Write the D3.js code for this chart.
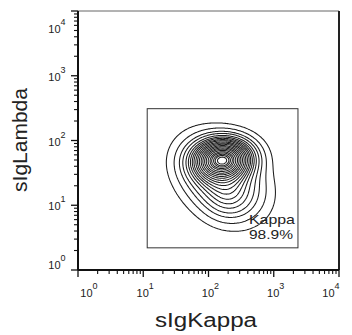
<!DOCTYPE html>
<html>
<head>
<meta charset="utf-8">
<script src="https://cdn.jsdelivr.net/npm/d3@7"></script>
<style>
  html, body { margin: 0; padding: 0; background: #fff; }
  svg { display: block; }
  text { font-family: "Liberation Sans", Arial, sans-serif; fill: #222; }
</style>
</head>
<body>
<svg id="chart" width="352" height="335"></svg>
<script>
// Axis decades (log10 fluorescence)
const decades = [0, 1, 2, 3, 4];
const tickBase = "10";

// Axis titles
const xTitle = "sIgKappa";
const yTitle = "sIgLambda";

// Kappa gate (fluorescence units): [xMin, xMax], [yMin, yMax]
const gateX = [11.5, 2350];
const gateY = [2.2, 310];
const gateName = "Kappa";
const gatePercent = "98.9%";

// Population shape as a mixture of bivariate normals in log10 space
const compMeanX = [2.22, 2.20, 2.30];
const compMeanY = [1.71, 1.42, 1.08];
const compSdX   = [0.25, 0.34, 0.22];
const compSdY   = [0.18, 0.33, 0.20];
const compRho   = [0.05, -0.28, 0.00];
const compW     = [0.56, 0.41, 0.03];

// Equal-probability contour levels (fraction of events enclosed)
const contourMass = [0.98, 0.95, 0.91, 0.87, 0.82, 0.77, 0.72, 0.67, 0.62,
                     0.57, 0.52, 0.47, 0.42, 0.37, 0.32, 0.27, 0.22, 0.17,
                     0.13, 0.09, 0.06, 0.03];

const svg = d3.select("#chart");
const pLeft = 78, pRight = 339, pTop = 11, pBottom = 270;

const x = d3.scaleLog().domain([1, 1e4]).range([pLeft, pRight]);
const y = d3.scaleLog().domain([1, 1e4]).range([pBottom, pTop]);

// ---- density grid in log space ----
const n = 240;
const values = new Float64Array(n * n);
for (let j = 0; j < n; j++) {
  const v = (j + 0.5) / n * 4;
  for (let i = 0; i < n; i++) {
    const u = (i + 0.5) / n * 4;
    let d = 0;
    for (let k = 0; k < compW.length; k++) {
      const dx = (u - compMeanX[k]) / compSdX[k];
      const dy = (v - compMeanY[k]) / compSdY[k];
      const r = compRho[k];
      const q = (dx * dx - 2 * r * dx * dy + dy * dy) / (1 - r * r);
      d += compW[k] * Math.exp(-0.5 * q) / (compSdX[k] * compSdY[k] * Math.sqrt(1 - r * r));
    }
    values[i + j * n] = d;
  }
}
// density thresholds that enclose each probability mass
const sorted = Array.from(values).sort((a, b) => b - a);
const total = d3.sum(sorted);
const thresholds = [];
{
  let acc = 0, idx = 0;
  const targets = contourMass.slice().sort((a, b) => a - b);
  for (const t of targets) {
    while (idx < sorted.length && acc < t * total) { acc += sorted[idx]; idx++; }
    thresholds.push(sorted[Math.max(0, idx - 1)]);
  }
}

const contours = d3.contours().size([n, n]).thresholds(thresholds)(values);
const proj = d3.geoTransform({
  point: function (gx, gy) {
    this.stream.point(x(Math.pow(10, gx / n * 4)), y(Math.pow(10, gy / n * 4)));
  }
});
const path = d3.geoPath(proj);

svg.append("g")
  .selectAll("path")
  .data(contours)
  .join("path")
  .attr("d", path)
  .attr("fill", "none")
  .attr("stroke", "#1c1c1c")
  .attr("stroke-width", 1.05)
  .attr("stroke-linejoin", "round");

// ---- gate ----
svg.append("rect")
  .attr("x", x(gateX[0]))
  .attr("y", y(gateY[1]))
  .attr("width", x(gateX[1]) - x(gateX[0]))
  .attr("height", y(gateY[0]) - y(gateY[1]))
  .attr("fill", "none")
  .attr("stroke", "#333")
  .attr("stroke-width", 1);

svg.append("text")
  .attr("x", x(gateX[1]) - 3)
  .attr("y", y(gateY[0]) - 24)
  .attr("text-anchor", "end")
  .attr("font-size", 13)
  .attr("textLength", 46)
  .attr("lengthAdjust", "spacingAndGlyphs")
  .text(gateName);
svg.append("text")
  .attr("x", x(gateX[1]) - 5)
  .attr("y", y(gateY[0]) - 9)
  .attr("text-anchor", "end")
  .attr("font-size", 13)
  .attr("textLength", 44)
  .attr("lengthAdjust", "spacingAndGlyphs")
  .text(gatePercent);

// ---- frame ----
svg.append("line").attr("x1", pLeft).attr("x2", pRight).attr("y1", pTop).attr("y2", pTop)
  .attr("stroke", "#666").attr("stroke-width", 1);
svg.append("line").attr("x1", pRight).attr("x2", pRight).attr("y1", pTop).attr("y2", pBottom)
  .attr("stroke", "#222").attr("stroke-width", 2);

// ---- log axes with minor ticks ----
const minorVals = [];
decades.slice(0, -1).forEach(p => { for (let m = 2; m <= 9; m++) minorVals.push(m * Math.pow(10, p)); });
const majorVals = decades.map(p => Math.pow(10, p));

const xAxis = svg.append("g");
xAxis.append("line").attr("x1", pLeft).attr("x2", pRight).attr("y1", pBottom).attr("y2", pBottom)
  .attr("stroke", "#111").attr("stroke-width", 2);
xAxis.selectAll(".mj").data(majorVals).join("line")
  .attr("x1", d => x(d)).attr("x2", d => x(d)).attr("y1", pBottom).attr("y2", pBottom + 7)
  .attr("stroke", "#111").attr("stroke-width", 1.3);
xAxis.selectAll(".mn").data(minorVals).join("line")
  .attr("x1", d => x(d)).attr("x2", d => x(d)).attr("y1", pBottom).attr("y2", pBottom + 4)
  .attr("stroke", "#111").attr("stroke-width", 1.1);

const yAxis = svg.append("g");
yAxis.append("line").attr("x1", pLeft).attr("x2", pLeft).attr("y1", pTop).attr("y2", pBottom)
  .attr("stroke", "#111").attr("stroke-width", 2);
yAxis.selectAll(".mj").data(majorVals).join("line")
  .attr("x1", pLeft - 7).attr("x2", pLeft).attr("y1", d => y(d)).attr("y2", d => y(d))
  .attr("stroke", "#111").attr("stroke-width", 1.3);
yAxis.selectAll(".mn").data(minorVals).join("line")
  .attr("x1", pLeft - 4).attr("x2", pLeft).attr("y1", d => y(d)).attr("y2", d => y(d))
  .attr("stroke", "#111").attr("stroke-width", 1.1);

// tick labels: 10 with superscript exponent, kept inside the axis span
const xl = svg.append("g").selectAll("text").data(decades).join("text")
  .attr("x", p => Math.min(Math.max(x(Math.pow(10, p)) + 2, 89), 331))
  .attr("y", 297)
  .attr("text-anchor", "middle")
  .attr("font-size", 11)
  .attr("fill", "#444");
xl.append("tspan").text(tickBase);
xl.append("tspan").attr("dy", -8).attr("font-size", 9).text(p => p);

const yl = svg.append("g").selectAll("text").data(decades).join("text")
  .attr("x", 57)
  .attr("y", p => Math.min(Math.max(y(Math.pow(10, p)) + 5, 33), 269))
  .attr("text-anchor", "middle")
  .attr("font-size", 11)
  .attr("fill", "#444");
yl.append("tspan").text(tickBase);
yl.append("tspan").attr("dy", -8).attr("font-size", 9).text(p => p);

// ---- axis titles ----
svg.append("text")
  .attr("x", 206).attr("y", 327)
  .attr("text-anchor", "middle")
  .attr("font-size", 20)
  .attr("textLength", 102)
  .attr("lengthAdjust", "spacingAndGlyphs")
  .text(xTitle);

svg.append("text")
  .attr("transform", "translate(27,140) rotate(-90)")
  .attr("text-anchor", "middle")
  .attr("font-size", 21)
  .text(yTitle);
</script>
</body>
</html>
